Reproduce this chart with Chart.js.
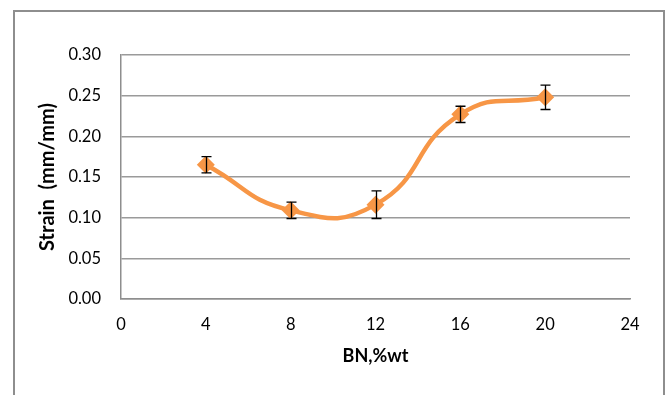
<!DOCTYPE html>
<html>
<head>
<meta charset="utf-8">
<script src="https://cdn.jsdelivr.net/npm/chart.js@4.4.0/dist/chart.umd.min.js"></script>
<style>
  html, body { margin: 0; padding: 0; background: #fff; }
  #frame { position: absolute; left: 13px; top: 10px; width: 648px; height: 400px;
           border: 2px solid #8e8e8e; border-bottom: none; }
  #wrap { position: absolute; left: 0; top: 0; width: 666px; height: 395px; }
</style>
</head>
<body>
<div id="frame"></div>
<div id="wrap"><canvas id="myChart" width="666" height="395"></canvas></div>
<script>
// BN content (%wt) and measured strain
const bnContent = [4, 8, 12, 16, 20];
const strain = [0.165, 0.109, 0.116, 0.227, 0.248];
const strainErr = [0.010, 0.010, 0.017, 0.010, 0.015];
const xTicks = [0, 4, 8, 12, 16, 20, 24];
const yTicks = [0, 0.05, 0.10, 0.15, 0.20, 0.25, 0.30];

const orange = '#F79646';

// error bars drawn on top of the line, using the chart scales
const errorBars = {
  id: 'errorBars',
  afterDatasetsDraw(chart) {
    const ctx = chart.ctx;
    const xs = chart.scales.x, ys = chart.scales.y;
    ctx.save();
    ctx.strokeStyle = '#000';
    ctx.lineWidth = 1.3;
    bnContent.forEach((bn, i) => {
      const px = Math.round(xs.getPixelForValue(bn)) + 0.5;
      const top = ys.getPixelForValue(strain[i] + strainErr[i]);
      const bot = ys.getPixelForValue(strain[i] - strainErr[i]);
      ctx.beginPath();
      ctx.moveTo(px, top); ctx.lineTo(px, bot);
      ctx.moveTo(px - 5, top); ctx.lineTo(px + 5, top);
      ctx.moveTo(px - 5, bot); ctx.lineTo(px + 5, bot);
      ctx.stroke();
    });
    ctx.restore();
  }
};

const ctx = document.getElementById('myChart').getContext('2d');
new Chart(ctx, {
  type: 'line',
  data: {
    datasets: [{
      data: bnContent.map((x, i) => ({ x: x, y: strain[i] })),
      borderColor: orange,
      backgroundColor: orange,
      borderWidth: 4.5,
      pointStyle: 'rectRot',
      pointRadius: 9,
      pointBorderWidth: 0,
      tension: 0.5,
      fill: false
    }]
  },
  options: {
    responsive: false,
    animation: false,
    events: [],
    layout: { padding: { left: 0, top: 55, right: 36, bottom: 0 } },
    plugins: { legend: { display: false }, tooltip: { enabled: false } },
    scales: {
      x: {
        type: 'linear',
        min: 0, max: 24,
        afterBuildTicks: (s) => { s.ticks = xTicks.map(v => ({ value: v })); },
        afterFit: (s) => { s.height = 96; },
        grid: { display: false, drawTicks: false },
        border: { display: true, color: '#8e8e8e', width: 1.5 },
        ticks: { color: '#000', padding: 16, font: { family: 'Lato', size: 16.5 } },
        title: { display: true, text: 'BN,%wt', color: '#000', padding: { top: 0, bottom: 28 },
                 font: { family: 'Lato', size: 18, weight: 'bold' } }
      },
      y: {
        min: 0, max: 0.30,
        afterBuildTicks: (s) => { s.ticks = yTicks.map(v => ({ value: v })); },
        afterFit: (s) => { s.width = 121; },
        grid: { color: '#9a9a9a', lineWidth: 1.5, drawTicks: false },
        border: { display: true, color: '#8e8e8e', width: 1.5 },
        ticks: { color: '#000', padding: 20, font: { family: 'Lato', size: 16.5 },
                 callback: (v) => v.toFixed(2) },
        title: { display: true, text: 'Strain  (mm/mm)', color: '#000', padding: { top: 36, bottom: 0 },
                 font: { family: 'Lato', size: 20, weight: 'bold' } }
      }
    }
  },
  plugins: [errorBars]
});
</script>
</body>
</html>
